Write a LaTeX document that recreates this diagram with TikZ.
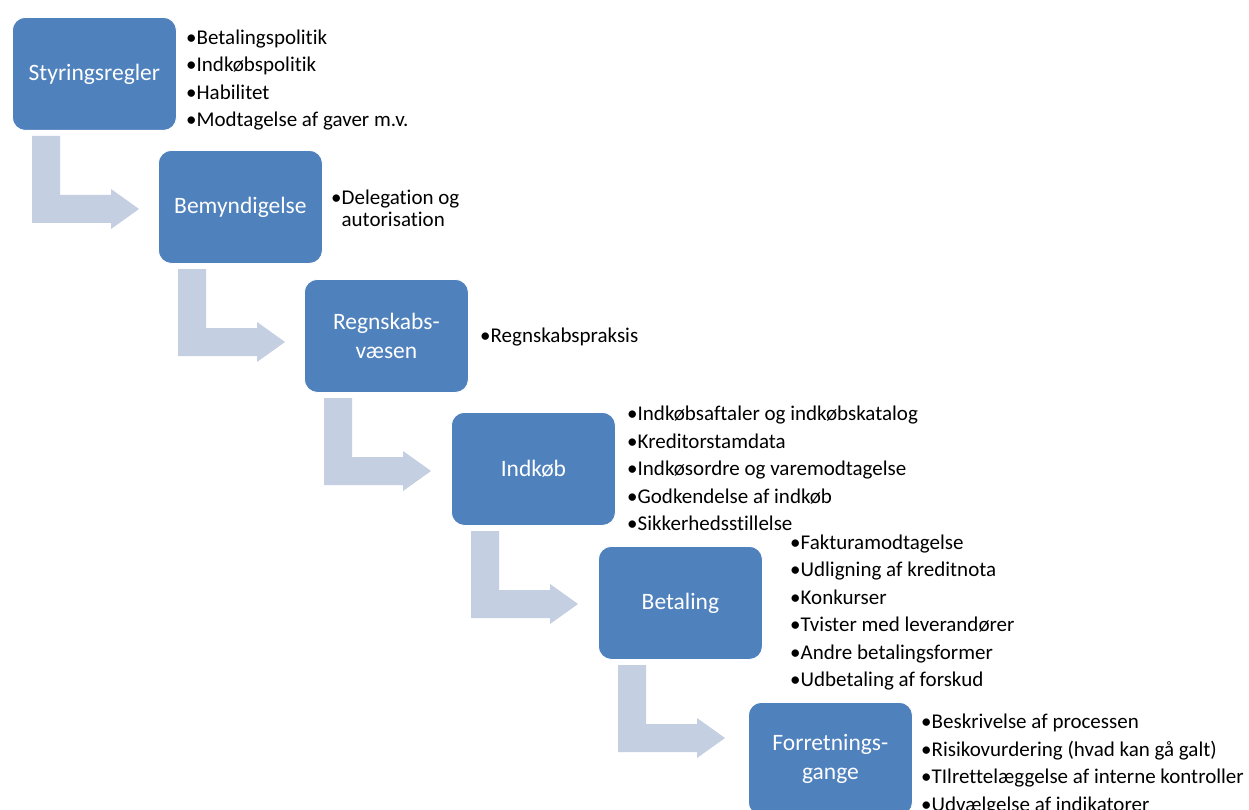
\documentclass[tikz,border=0pt]{standalone}
\usepackage{fontspec}
\setmainfont{Carlito}[Ligatures={NoCommon,NoRare}]
\usetikzlibrary{calc}
\definecolor{boxblue}{RGB}{79,129,189}
\definecolor{arrowgray}{RGB}{196,207,226}
\tikzset{
  stepbox/.style={fill=boxblue, draw=white, line width=0.8pt, rounded corners=13pt,
    minimum width=164pt, minimum height=113pt, anchor=north west, text=white,
    font=\fontsize{23.5}{29}\selectfont, align=center, inner sep=0pt},
  itemlist/.style={anchor=west, align=left, inner sep=0pt,
    font=\fontsize{21}{27.4}\selectfont, text=black},
  bentfill/.style={fill=arrowgray}
}
\newcommand\bentarrow[1]{%
  \fill[bentfill] ([shift={(20,119)}]#1.north west) -- ([shift={(48,119)}]#1.north west)
    -- ([shift={(48,178)}]#1.north west) -- ([shift={(99,178)}]#1.north west)
    -- ([shift={(99,172)}]#1.north west) -- ([shift={(127,192)}]#1.north west)
    -- ([shift={(99,212)}]#1.north west) -- ([shift={(99,206)}]#1.north west)
    -- ([shift={(20,206)}]#1.north west) -- cycle;}
\begin{document}
\begin{tikzpicture}[x=1pt,y=-1pt]
\useasboundingbox[fill=white] (0,0) rectangle (1249,810);
\node[stepbox] (b1) at (12,17) {Styringsregler};
\node[stepbox] (b2) at (158,150) {Bemyndigelse};
\node[stepbox] (b3) at (304,279) {Regnskabs-\\væsen};
\node[stepbox] (b4) at (451,412) {Indkøb};
\node[stepbox] (b5) at (598,546) {Betaling};
\node[stepbox] (b6) at (748,702) {Forretnings-\\gange};
\bentarrow{b1}
\bentarrow{b2}
\bentarrow{b3}
\bentarrow{b4}
\bentarrow{b5}
\node[itemlist] (l1) at (186,80) {•Betalingspolitik\\•Indkøbspolitik\\•Habilitet\\•Modtagelse af gaver m.v.};
\node[itemlist, font=\fontsize{21}{22}\selectfont] (l2) at (331,208) {•Delegation og\\\phantom{•}autorisation};
\node[itemlist] (l3) at (480,337) {•Regnskabspraksis};
\node[itemlist] (l4) at (627,468.5) {•Indkøbsaftaler og indkøbskatalog\\•Kreditorstamdata\\•Indkøsordre og varemodtagelse\\•Godkendelse af indkøb\\•Sikkerhedsstillelse};
\node[itemlist] (l5) at (790,612.5) {•Fakturamodtagelse\\•Udligning af kreditnota\\•Konkurser\\•Tvister med leverandører\\•Andre betalingsformer\\•Udbetaling af forskud};
\node[itemlist] (l6) at (921,764.5) {•Beskrivelse af processen\\•Risikovurdering (hvad kan gå galt)\\•TIlrettelæggelse af interne kontroller\\•Udvælgelse af indikatorer};
\end{tikzpicture}
\end{document}
